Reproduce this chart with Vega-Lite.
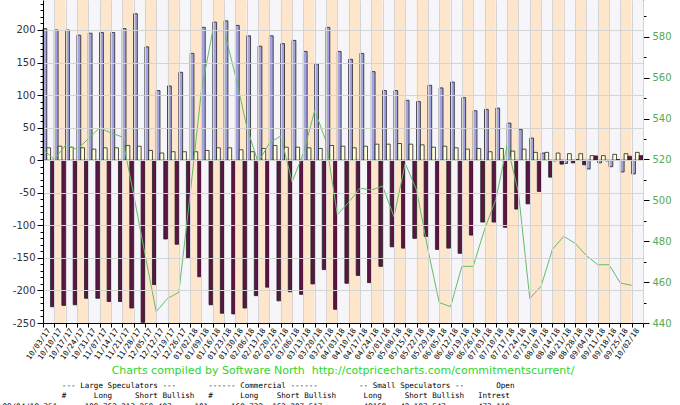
{
  "$schema": "https://vega.github.io/schema/vega-lite/v6.json",
  "width": 600,
  "height": 323,
  "autosize": {"type": "none"},
  "padding": {"left": 43, "top": 0, "right": 37, "bottom": 82},
  "background": "white",
  "config": {"view": {"stroke": null}},
  "title": {
    "text": "Charts compiled by Software North\u00a0 http://cotpricecharts.com/commitmentscurrent/",
    "orient": "bottom",
    "anchor": "middle",
    "frame": "group",
    "color": "#2ED62E",
    "font": "DejaVu Sans",
    "fontSize": 11,
    "fontWeight": "normal",
    "offset": 4,
    "subtitle": [
      "\u200b\u00a0\u00a0\u00a0\u00a0\u00a0\u00a0\u00a0\u00a0\u00a0\u00a0\u00a0\u00a0\u00a0---\u00a0Large\u00a0Speculators\u00a0---\u00a0\u00a0\u00a0\u00a0\u00a0\u00a0\u00a0------\u00a0Commercial\u00a0------\u00a0\u00a0\u00a0\u00a0\u00a0\u00a0\u00a0\u00a0\u00a0--\u00a0Small\u00a0Speculators\u00a0--\u00a0\u00a0\u00a0\u00a0\u00a0\u00a0\u00a0Open\u00a0\u00a0\u00a0\u00a0\u00a0\u00a0\u00a0\u00a0\u00a0\u00a0\u00a0\u00a0\u00a0\u00a0\u00a0\u00a0\u00a0\u00a0\u00a0\u00a0\u00a0\u00a0\u00a0\u00a0\u00a0\u00a0\u00a0\u00a0\u00a0\u00a0\u00a0\u00a0\u00a0\u00a0\u00a0\u00a0\u00a0\u200b",
      "\u200b\u00a0\u00a0\u00a0\u00a0\u00a0\u00a0\u00a0\u00a0\u00a0\u00a0\u00a0\u00a0\u00a0#\u00a0\u00a0\u00a0\u00a0\u00a0\u00a0Long\u00a0\u00a0\u00a0\u00a0\u00a0Short\u00a0Bullish\u00a0\u00a0\u00a0#\u00a0\u00a0\u00a0\u00a0\u00a0\u00a0Long\u00a0\u00a0\u00a0\u00a0Short\u00a0Bullish\u00a0\u00a0\u00a0\u00a0\u00a0\u00a0Long\u00a0\u00a0\u00a0\u00a0\u00a0Short\u00a0Bullish\u00a0\u00a0\u00a0Intrest\u00a0\u00a0\u00a0\u00a0\u00a0\u00a0\u00a0\u00a0\u00a0\u00a0\u00a0\u00a0\u00a0\u00a0\u00a0\u00a0\u00a0\u00a0\u00a0\u00a0\u00a0\u00a0\u00a0\u00a0\u00a0\u00a0\u00a0\u00a0\u00a0\u00a0\u00a0\u00a0\u00a0\u00a0\u00a0\u00a0\u00a0\u00a0\u200b",
      "\u200b09/04/18\u00a0351\u00a0\u00a0\u00a0\u00a0\u00a0\u00a0199,762\u00a0213,259\u00a0487\u00a0\u00a0\u00a0\u00a0\u00a0101\u00a0\u00a0\u00a0\u00a0\u00a0168,732\u00a0\u00a0162,207\u00a0517\u00a0\u00a0\u00a0\u00a0\u00a0\u00a0\u00a0\u00a0\u00a049169\u00a0\u00a0\u00a042,197\u00a0547\u00a0\u00a0\u00a0\u00a0\u00a0\u00a0\u00a0473,118\u00a0\u00a0\u00a0\u00a0\u00a0\u00a0\u00a0\u00a0\u00a0\u00a0\u00a0\u00a0\u00a0\u00a0\u00a0\u00a0\u00a0\u00a0\u00a0\u00a0\u00a0\u00a0\u00a0\u00a0\u00a0\u00a0\u00a0\u00a0\u00a0\u00a0\u00a0\u00a0\u00a0\u00a0\u00a0\u00a0\u00a0\u00a0\u200b"
    ],
    "subtitleFont": "DejaVu Sans Mono",
    "subtitleFontSize": 7.6,
    "subtitleColor": "#000000",
    "subtitleLineHeight": 10.5,
    "subtitlePadding": 6
  },
  "data": {
    "values": [
      {"week": "10/03/17", "large": 202, "small": 19, "commercial": -225, "price": 525},
      {"week": "10/10/17", "large": 200, "small": 21.5, "commercial": -223, "price": 520},
      {"week": "10/17/17", "large": 200, "small": 20, "commercial": -222, "price": 527},
      {"week": "10/24/17", "large": 192, "small": 19, "commercial": -212, "price": 525},
      {"week": "10/31/17", "large": 195, "small": 17, "commercial": -212, "price": 530},
      {"week": "11/07/17", "large": 196, "small": 19, "commercial": -217, "price": 535.5},
      {"week": "11/14/17", "large": 196, "small": 19, "commercial": -217, "price": 533},
      {"week": "11/21/17", "large": 202, "small": 22.6, "commercial": -227, "price": 531},
      {"week": "11/28/17", "large": 225, "small": 21.5, "commercial": -249, "price": 503},
      {"week": "12/05/17", "large": 174, "small": 15, "commercial": -191, "price": 474},
      {"week": "12/12/17", "large": 107, "small": 11, "commercial": -121, "price": 445.5},
      {"week": "12/19/17", "large": 114, "small": 13, "commercial": -129, "price": 452},
      {"week": "12/26/17", "large": 135, "small": 13, "commercial": -150, "price": 455},
      {"week": "01/02/18", "large": 164, "small": 13, "commercial": -179, "price": 503},
      {"week": "01/09/18", "large": 204, "small": 15, "commercial": -222, "price": 554},
      {"week": "01/16/18", "large": 212, "small": 19, "commercial": -235, "price": 583},
      {"week": "01/23/18", "large": 214, "small": 19, "commercial": -236, "price": 583},
      {"week": "01/30/18", "large": 207, "small": 16, "commercial": -227, "price": 561},
      {"week": "02/06/18", "large": 191, "small": 13, "commercial": -208, "price": 536},
      {"week": "02/13/18", "large": 175, "small": 18, "commercial": -195, "price": 518.5},
      {"week": "02/20/18", "large": 191, "small": 22.6, "commercial": -216, "price": 528},
      {"week": "02/27/18", "large": 179, "small": 20, "commercial": -202, "price": 531.5},
      {"week": "03/06/18", "large": 184, "small": 20, "commercial": -206, "price": 509},
      {"week": "03/13/18", "large": 167, "small": 19, "commercial": -190, "price": 523},
      {"week": "03/20/18", "large": 148, "small": 18, "commercial": -168, "price": 544},
      {"week": "03/27/18", "large": 204, "small": 22.6, "commercial": -229, "price": 529},
      {"week": "04/03/18", "large": 167, "small": 21.5, "commercial": -189, "price": 493},
      {"week": "04/10/18", "large": 155, "small": 19, "commercial": -177, "price": 499},
      {"week": "04/17/18", "large": 164, "small": 21.5, "commercial": -188, "price": 506},
      {"week": "04/24/18", "large": 136, "small": 24.6, "commercial": -163, "price": 505},
      {"week": "05/01/18", "large": 107, "small": 24.6, "commercial": -133, "price": 507},
      {"week": "05/08/18", "large": 107, "small": 25.6, "commercial": -135, "price": 492},
      {"week": "05/15/18", "large": 92, "small": 24.6, "commercial": -120, "price": 518},
      {"week": "05/22/18", "large": 90, "small": 23.6, "commercial": -117, "price": 505},
      {"week": "05/29/18", "large": 115, "small": 20, "commercial": -137, "price": 476},
      {"week": "06/05/18", "large": 111, "small": 21.5, "commercial": -135, "price": 450},
      {"week": "06/12/18", "large": 120, "small": 19, "commercial": -143, "price": 448},
      {"week": "06/19/18", "large": 96, "small": 17, "commercial": -115, "price": 467.7},
      {"week": "06/26/18", "large": 76, "small": 18, "commercial": -95, "price": 467.7},
      {"week": "07/03/18", "large": 78, "small": 13, "commercial": -95, "price": 485.7},
      {"week": "07/10/18", "large": 80, "small": 18, "commercial": -103, "price": 500.4},
      {"week": "07/17/18", "large": 57, "small": 14, "commercial": -75, "price": 527},
      {"week": "07/24/18", "large": 47, "small": 17, "commercial": -67, "price": 503.7},
      {"week": "07/31/18", "large": 34, "small": 12, "commercial": -48, "price": 452},
      {"week": "08/07/18", "large": 11, "small": 12, "commercial": -26, "price": 458},
      {"week": "08/14/18", "large": -1, "small": 11, "commercial": -6, "price": 476},
      {"week": "08/21/18", "large": -5, "small": 10, "commercial": -4, "price": 482.4},
      {"week": "08/28/18", "large": 1, "small": 10, "commercial": -7, "price": 479},
      {"week": "09/04/18", "large": -13.5, "small": 7, "commercial": 6.5, "price": 473},
      {"week": "09/11/18", "large": -4, "small": 7, "commercial": -1, "price": 468.5},
      {"week": "09/18/18", "large": -10, "small": 9, "commercial": 1, "price": 468.5},
      {"week": "09/25/18", "large": -18, "small": 10, "commercial": 6, "price": 459.6},
      {"week": "10/02/18", "large": -21, "small": 12, "commercial": 7, "price": 458.4}
    ]
  },
  "layer": [
    {
      "transform": [{"window": [{"op": "row_number", "as": "idx"}]}],
      "mark": {"type": "rect"},
      "encoding": {
        "x": {
          "field": "week", "type": "ordinal", "sort": null,
          "scale": {"paddingInner": 0, "paddingOuter": 0},
          "axis": {
            "title": null, "labelAngle": -55, "labelFont": "DejaVu Sans Mono", "labelFontSize": 7.5,
            "labelColor": "#000000", "tickBand": "extent", "tickSize": 4, "tickColor": "#000000",
            "domainColor": "#000000", "grid": true, "gridColor": "#d4d4d4", "labelPadding": 2,
            "zindex": 1, "labelOverlap": false
          }
        },
        "fill": {"condition": {"test": "datum.idx % 2 === 0", "value": "#FDE6CC"}, "value": "#F5F5FA"}
      }
    },
    {
      "transform": [{"fold": ["large", "small", "commercial"], "as": ["series", "net"]}],
      "mark": {"type": "bar", "stroke": "#222222", "strokeWidth": 0.8},
      "encoding": {
        "x": {"field": "week", "type": "ordinal", "sort": null},
        "xOffset": {"field": "series", "type": "nominal", "sort": ["large", "small", "commercial"], "scale": {"paddingInner": 0, "paddingOuter": 0}},
        "y": {
          "field": "net", "type": "quantitative", "stack": null,
          "scale": {"domain": [-250, 246], "nice": false, "zero": false},
          "axis": {
            "title": null,
            "values": [-250,-240,-230,-220,-210,-200,-190,-180,-170,-160,-150,-140,-130,-120,-110,-100,-90,-80,-70,-60,-50,-40,-30,-20,-10,0,10,20,30,40,50,60,70,80,90,100,110,120,130,140,150,160,170,180,190,200,210,220,230,240],
            "labelExpr": "datum.value % 50 === 0 ? '' + datum.value : ''",
            "tickSize": {"condition": {"test": "datum.value % 50 === 0", "value": 6}, "value": 3},
            "gridOpacity": {"condition": {"test": "datum.value % 50 === 0", "value": 1}, "value": 0},
            "gridColor": "#d4d4d4", "domainColor": "#000000", "tickColor": "#000000",
            "labelColor": "#333333", "labelFont": "DejaVu Sans", "labelFontSize": 10, "labelPadding": 2,
            "zindex": 1
          }
        },
        "color": {
          "field": "series", "type": "nominal",
          "scale": {"domain": ["large", "small", "commercial"], "range": ["#A3A3DE", "#FFFFDC", "#5C1444"]},
          "legend": null
        }
      }
    },
    {
      "mark": {"type": "line", "color": "#66BB66", "strokeWidth": 1},
      "encoding": {
        "x": {"field": "week", "type": "ordinal", "sort": null, "bandPosition": 0},
        "y": {
          "field": "price", "type": "quantitative",
          "scale": {"domain": [440, 598], "nice": false, "zero": false},
          "axis": {
            "orient": "right", "title": null, "grid": false,
            "values": [440,450,460,470,480,490,500,510,520,530,540,550,560,570,580,590],
            "labelExpr": "datum.value % 20 === 0 ? '' + datum.value : ''",
            "tickSize": {"condition": {"test": "datum.value % 20 === 0", "value": 6}, "value": 3},
            "domainColor": "#000000", "tickColor": "#000000",
            "labelColor": "#55AA55", "labelFont": "DejaVu Sans", "labelFontSize": 10, "labelPadding": 3
          }
        }
      }
    }
  ],
  "resolve": {"scale": {"y": "independent"}}
}
